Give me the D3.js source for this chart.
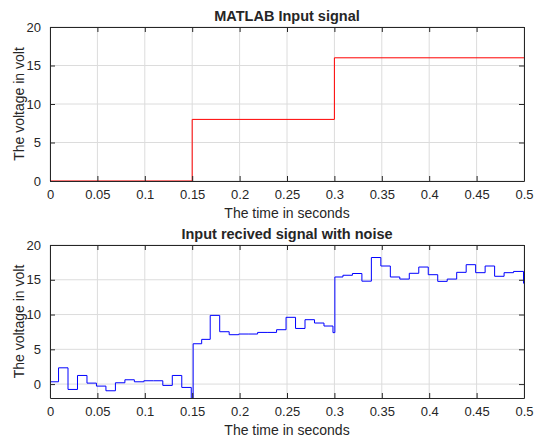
<!DOCTYPE html>
<html><head><meta charset="utf-8">
<script src="https://cdn.jsdelivr.net/npm/d3@7/dist/d3.min.js"></script>
<style>
body{margin:0;background:#fff;}
text{font-family:"Liberation Sans",Arial,Helvetica,sans-serif;fill:#262626;}
</style></head><body>
<svg id="chart" width="542" height="438"></svg>
<script>
// Input signal (step)
const inputTimes  = [0, 0.15, 0.3, 0.5];
const inputValues = [0, 8, 16, 16];
// Received signal with noise (sample-and-hold steps)
const noiseTimes = [0,0.009,0.019,0.029,0.039,0.049,0.059,0.069,0.079,0.089,0.099,0.109,0.119,0.129,0.139,0.149,0.151,
  0.16,0.169,0.179,0.189,0.199,0.209,0.219,0.229,0.239,0.249,0.259,0.269,0.279,0.289,0.2985,0.3005,
  0.309,0.319,0.329,0.339,0.349,0.359,0.369,0.379,0.389,0.399,0.409,0.419,0.429,0.439,0.449,0.459,0.469,0.479,0.489,0.4995,0.5];
const noiseValues = [0.33,2.34,-0.77,1.24,0.14,-0.29,-0.96,0.19,0.62,0.33,0.48,0.48,-0.19,1.24,-0.48,-2.5,5.8,
  6.43,9.88,7.53,7.1,7.2,7.2,7.43,7.43,7.82,9.6,8.0,9.26,8.78,8.35,7.4,15.4,
  15.65,15.9,14.8,18.2,16.98,15.4,15.1,15.93,16.83,15.73,14.77,15.1,16.07,17.17,16.02,16.98,15.5,16.02,16.2,14.5,14.5];
const xTicks = [0,0.05,0.1,0.15,0.2,0.25,0.3,0.35,0.4,0.45,0.5];
const yTicks = [0,5,10,15,20];
const titles = ["MATLAB Input signal","Input recived signal with noise"];
const xLabel = "The time in seconds";
const yLabel = "The voltage in volt";

const svg = d3.select("#chart");
const fmt = d => d3.format("")(+d.toFixed(2));

function panel(idx, top, bottom, yDomain, times, values, color){
  const x = d3.scaleLinear().domain([0,0.5]).range([50,524]);
  const y = d3.scaleLinear().domain(yDomain).range([bottom, top]);
  const g = svg.append("g");
  const clipId = "clip"+idx;
  svg.append("clipPath").attr("id",clipId).append("rect")
    .attr("x",50).attr("y",top).attr("width",474).attr("height",bottom-top);
  // grid
  g.selectAll(".gx").data(xTicks).join("line")
    .attr("x1",d=>x(d)).attr("x2",d=>x(d)).attr("y1",top).attr("y2",bottom)
    .attr("stroke","#dcdcdc").attr("stroke-width",1);
  g.selectAll(".gy").data(yTicks).join("line")
    .attr("x1",50).attr("x2",524).attr("y1",d=>y(d)).attr("y2",d=>y(d))
    .attr("stroke","#dcdcdc").attr("stroke-width",1);
  // data
  const line = d3.line().x((d,i)=>x(times[i])).y(d=>y(d)).curve(d3.curveStepAfter);
  g.append("path").datum(values).attr("d",line).attr("fill","none")
    .attr("stroke",color).attr("stroke-width",1).attr("clip-path","url(#"+clipId+")");
  // axes
  const ax = g.append("g").attr("transform",`translate(0,${bottom})`)
    .call(d3.axisBottom(x).tickValues(xTicks).tickFormat(fmt).tickSizeInner(-5).tickSizeOuter(0).tickPadding(9));
  const axT = g.append("g").attr("transform",`translate(0,${top})`)
    .call(d3.axisTop(x).tickValues(xTicks).tickFormat("").tickSizeInner(-5).tickSizeOuter(0));
  const ay = g.append("g").attr("transform","translate(50,0)")
    .call(d3.axisLeft(y).tickValues(yTicks).tickSizeInner(-5).tickSizeOuter(0).tickPadding(9));
  const ayR = g.append("g").attr("transform","translate(524,0)")
    .call(d3.axisRight(y).tickValues(yTicks).tickFormat("").tickSizeInner(-5).tickSizeOuter(0));
  [ax,axT,ay,ayR].forEach(a=>{
    a.selectAll("path").attr("stroke","#262626").attr("stroke-width",1);
    a.selectAll("line").attr("stroke","#262626");
    a.selectAll("text").attr("font-size",13).attr("fill","#262626")
      .style("font-family","'Liberation Sans',Arial,sans-serif");
  });
  // title
  g.append("text").attr("x",287).attr("y",top-6).attr("text-anchor","middle")
    .attr("font-size",14.5).attr("font-weight","bold").text(titles[idx]);
  g.append("text").attr("x",287).attr("y",bottom+37).attr("text-anchor","middle")
    .attr("font-size",14).text(xLabel);
  g.append("text").attr("transform",`translate(24,${(top+bottom)/2}) rotate(-90)`)
    .attr("text-anchor","middle").attr("font-size",14).text(yLabel);
}
panel(0, 27, 181, [0,20], inputTimes, inputValues, "#ff0000");
panel(1, 245, 398, [-2,20], noiseTimes, noiseValues, "#0000ff");
</script>
</body></html>
